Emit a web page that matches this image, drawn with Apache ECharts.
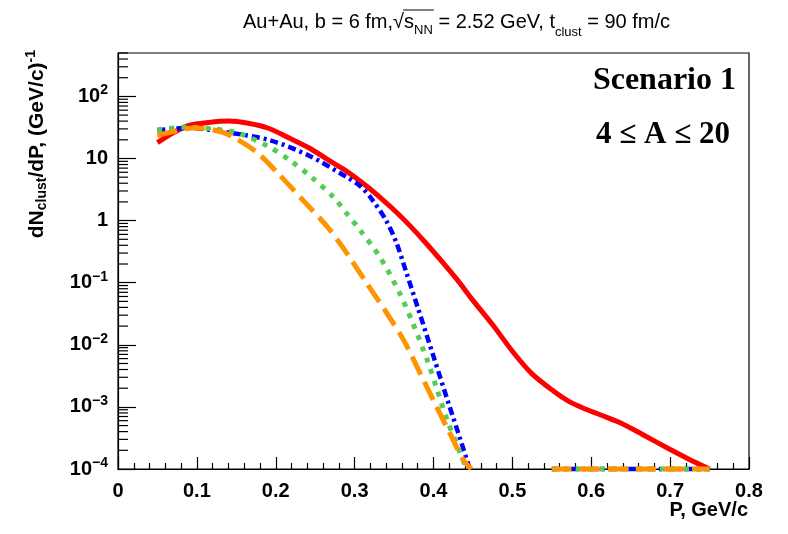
<!DOCTYPE html>
<html>
<head>
<meta charset="utf-8">
<script src="https://cdn.jsdelivr.net/npm/echarts@6/dist/echarts.min.js"></script>
<style>
html, body { margin: 0; padding: 0; background: #fff; }
#main { width: 788px; height: 534px; }
</style>
</head>
<body>
<div id="main"></div>
<script>
// momentum values (GeV/c) and dN/dP
var redP = [0.05, 0.07, 0.09, 0.115, 0.14, 0.165, 0.19, 0.215, 0.243, 0.27, 0.29, 0.315, 0.335, 0.352, 0.37, 0.39, 0.412, 0.43, 0.45, 0.475, 0.501, 0.525, 0.552, 0.57, 0.59, 0.612, 0.636, 0.665, 0.696, 0.722, 0.75];
var redV = [18, 26, 34, 38, 40, 37, 31, 22, 14.6, 8.9, 6.2, 3.6, 2.2, 1.40, 0.83, 0.44, 0.21, 0.112, 0.052, 0.021, 0.0076, 0.0034, 0.0018, 0.00126, 0.00095, 0.00074, 0.00056, 0.00036, 0.00022, 0.000148, 0.0001];

var blueP = [0.05, 0.087, 0.142, 0.193, 0.243, 0.29, 0.307, 0.322, 0.34, 0.353, 0.366, 0.38, 0.40, 0.42, 0.434, 0.446];
var blueV = [28.5, 31, 26, 19.6, 11, 5.0, 3.6, 2.2, 1.0, 0.44, 0.14, 0.04, 0.0065, 0.00105, 0.0003, 0.0001];

var greenP = [0.05, 0.087, 0.12, 0.151, 0.189, 0.218, 0.247, 0.273, 0.29, 0.307, 0.332, 0.357, 0.374, 0.392, 0.404, 0.417, 0.43, 0.442];
var greenV = [29, 32, 30, 26, 16, 9.4, 4.8, 2.4, 1.3, 0.7, 0.26, 0.068, 0.022, 0.0057, 0.002, 0.00063, 0.00024, 0.0001];

var orangeP = [0.05, 0.075, 0.095, 0.12, 0.142, 0.176, 0.205, 0.235, 0.266, 0.285, 0.315, 0.341, 0.362, 0.383, 0.404, 0.421, 0.438, 0.448];
var orangeV = [23.5, 28, 31, 29, 23.5, 12.6, 5.4, 2.1, 0.78, 0.37, 0.1, 0.032, 0.012, 0.0035, 0.001, 0.00037, 0.00014, 0.0001];

// the three narrow-window curves sit on the floor of the plot here
var floorP = [0.55, 0.75];
var floorV = [0.0001, 0.0001];

var xTicks = [0, 0.1, 0.2, 0.3, 0.4, 0.5, 0.6, 0.7, 0.8];
var yMin = 0.0001, yMax = 500;

function zip(p, v) {
	var out = [];
	for (var i = 0; i < p.length; ++i) out.push([p[i], v[i]]);
	return out;
}
function withFloor(p, v) {
	return zip(p, v).concat([[0.5, '-']]).concat(zip(floorP, floorV));
}

var FONT = '"Liberation Sans", Arial, Helvetica, sans-serif';
var SERIF = '"Liberation Serif", "Times New Roman", serif';

function mkSeries(name, data, color, width, dash) {
	return {
		name: name,
		type: 'line',
		data: data,
		smooth: 0.3,
		showSymbol: false,
		clip: false,
		connectNulls: false,
		lineStyle: { color: color, width: width, type: dash, cap: 'butt' }
	};
}

var myChart = echarts.init(document.getElementById('main'));

var option = {
	animation: false,
	backgroundColor: '#fff',
	grid: { left: 118, right: 39, top: 53, bottom: 65, show: true, borderColor: '#000', borderWidth: 1.2, backgroundColor: 'transparent' },
	xAxis: {
		type: 'value',
		min: xTicks[0],
		max: xTicks[xTicks.length - 1],
		interval: 0.1,
		axisLine: { show: true, lineStyle: { color: '#000', width: 1.2 } },
		axisTick: { show: true, inside: true, length: 12, lineStyle: { color: '#000', width: 1.2 } },
		minorTick: { show: true, splitNumber: 5, length: 6, lineStyle: { color: '#000', width: 1.2 } },
		splitLine: { show: false },
		axisLabel: {
			margin: 12,
			color: '#000',
			fontFamily: FONT,
			fontWeight: 'bold',
			fontSize: 20,
			formatter: function (v) { return v === 0 ? '0' : v.toFixed(1); }
		}
	},
	yAxis: {
		type: 'log',
		min: yMin,
		max: yMax,
		axisLine: { show: true, lineStyle: { color: '#000', width: 1.2 } },
		axisTick: { show: true, inside: true, length: 18, lineStyle: { color: '#000', width: 1.2 } },
		splitLine: { show: false },
		axisLabel: {
			margin: 10,
			color: '#000',
			showMaxLabel: false,
			formatter: function (v) {
				var d = Math.round(Math.log(v) / Math.LN10);
				if (Math.abs(Math.log(v) / Math.LN10 - d) > 1e-6) return '';
				if (d === 0) return '{b|1}';
				if (d === 1) return '{b|10}';
				return '{b|10}{s|' + (d < 0 ? '\u2212' + (-d) : d) + '}';
			},
			rich: {
				b: { fontFamily: FONT, fontWeight: 'bold', fontSize: 20, color: '#000' },
				s: { fontFamily: FONT, fontWeight: 'bold', fontSize: 14, color: '#000', padding: [0, 0, 12, 0] }
			}
		}
	},
	series: [
		mkSeries('red', zip(redP, redV), '#ff0000', 5, 'solid'),
		mkSeries('blue', withFloor(blueP, blueV), '#0000ff', 4.5, [8, 4, 3, 4]),
		mkSeries('green', withFloor(greenP, greenV), '#55cc55', 5, [5, 7]),
		mkSeries('orange', withFloor(orangeP, orangeV), '#ff9400', 5, [20, 8])
	]
};
myChart.setOption(option);

// measure text pieces for the title
var mctx = document.createElement('canvas').getContext('2d');
function tw(str, size, weight) {
	mctx.font = (weight || 'normal') + ' ' + size + 'px ' + FONT;
	return mctx.measureText(str).width;
}

var graphics = [];
var titleParts = [
	{ t: 'Au+Au, b = 6 fm,', s: 20, dy: 0 },
	{ t: '\u221A', s: 20, dy: 0 },
	{ t: 's', s: 20, dy: 0, over: true },
	{ t: 'NN', s: 13, dy: 5, over: true },
	{ t: ' = 2.52 GeV, t', s: 20, dy: 0 },
	{ t: 'clust', s: 13, dy: 7 },
	{ t: ' = 90 fm/c', s: 20, dy: 0 }
];
var cx = 243, baseY = 32, overStart = null, overEnd = null;
titleParts.forEach(function (p) {
	graphics.push({
		type: 'text', x: cx, y: baseY + p.dy, z: 10,
		style: { text: p.t, fontFamily: FONT, fontSize: p.s, fill: '#000', verticalAlign: 'bottom', align: 'left' }
	});
	var w = tw(p.t, p.s);
	if (p.over) {
		if (overStart === null) overStart = cx;
		overEnd = cx + w;
	}
	cx += w;
});
graphics.push({
	type: 'line', z: 10,
	shape: { x1: overStart - 1, y1: 10, x2: overEnd + 1, y2: 10 },
	style: { stroke: '#000', lineWidth: 1 }
});

// y-axis title, rotated
graphics.push({
	type: 'text', x: 37, y: 50, rotation: Math.PI / 2, z: 10,
	style: {
		text: '{b|dN}{s|clust}{b|/dP, (GeV/c)}{p|-1}',
		align: 'right', verticalAlign: 'middle',
		rich: {
			b: { fontFamily: FONT, fontWeight: 'bold', fontSize: 21, fill: '#000' },
			s: { fontFamily: FONT, fontWeight: 'bold', fontSize: 14, fill: '#000', padding: [10, 0, 0, 0] },
			p: { fontFamily: FONT, fontWeight: 'bold', fontSize: 14, fill: '#000', padding: [0, 0, 12, 0] }
		}
	}
});

// x-axis title
graphics.push({
	type: 'text', x: 748, y: 520, z: 10,
	style: { text: 'P, GeV/c', fontFamily: FONT, fontWeight: 'bold', fontSize: 20, fill: '#000', align: 'right', verticalAlign: 'bottom' }
});

// annotation
graphics.push({
	type: 'text', x: 736, y: 97, z: 10,
	style: { text: 'Scenario 1', fontFamily: SERIF, fontWeight: 'bold', fontSize: 32, fill: '#000', align: 'right', verticalAlign: 'bottom' }
});
graphics.push({
	type: 'text', x: 730, y: 150, z: 10,
	style: { text: '4 \u2264 A \u2264 20', fontFamily: SERIF, fontWeight: 'bold', fontSize: 31, fill: '#000', align: 'right', verticalAlign: 'bottom' }
});

// log minor ticks (2..9 per decade) placed through the axis scale
var axX = myChart.convertToPixel({ xAxisIndex: 0 }, 0);
for (var d = -4; d <= 2; ++d) {
	for (var k = 2; k <= 9; ++k) {
		var v = k * Math.pow(10, d);
		if (v > yMax) break;
		var py = myChart.convertToPixel({ yAxisIndex: 0 }, v);
		graphics.push({
			type: 'line', z: 5,
			shape: { x1: axX, y1: py, x2: axX + 10, y2: py },
			style: { stroke: '#000', lineWidth: 1.2 }
		});
	}
}

myChart.setOption({ graphic: graphics });
</script>
</body>
</html>
